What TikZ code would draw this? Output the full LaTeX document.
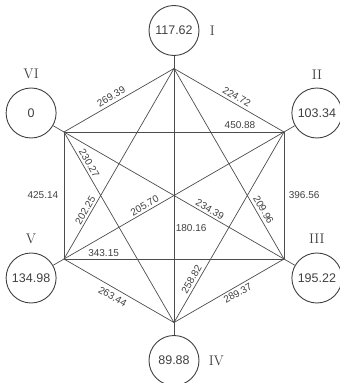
\documentclass[tikz,border=0pt]{standalone}
\usepackage{fontspec}
\setsansfont{Liberation Sans}
\usetikzlibrary{positioning}

\begin{document}
\begin{tikzpicture}[x=1pt, y=1pt, line width=0.7pt,
    station/.style={draw=black!75, circle, minimum size=50pt, inner sep=0pt, line width=0.9pt, text=black!75, font=\sffamily\fontsize{12.5}{14}\selectfont},
    roman/.style={inner sep=0pt, text=black!75, font=\fontsize{14}{16}\selectfont},
    dist/.style={inner sep=1.5pt, text=black!75, font=\sffamily\fontsize{10}{12}\selectfont},
    link/.style={draw=black!70}]
    \useasboundingbox (-174,-187.5) rectangle (166,195.5);

    % Corners of the hexagon
    \coordinate (vI) at (90:127);
    \coordinate (vII) at (30:127);
    \coordinate (vIII) at (-30:127);
    \coordinate (vIV) at (-90:127);
    \coordinate (vV) at (210:127);
    \coordinate (vVI) at (150:127);

    % Stations
    \node (cI) [station] at (90:165) {117.62};
    \node (cII) [station] at (30:165) {103.34};
    \node (cIII) [station] at (-30:165) {195.22};
    \node (cIV) [station] at (-90:165) {89.88};
    \node (cV) [station] at (210:165) {134.98};
    \node (cVI) [station] at (150:165) {0};

    \node (lI) [roman, right=10pt of cI] {I};
    \node (lII) [roman, above=8pt of cII] {II};
    \node (lIII) [roman, above=9pt of cIII] {III};
    \node (lIV) [roman, right=9pt of cIV] {IV};
    \node (lV) [roman, above=8pt of cV] {V};
    \node (lVI) [roman, above=8pt of cVI] {VI};

    \draw[link] (cI) -- (vI);
    \draw[link] (cII) -- (vII);
    \draw[link] (cIII) -- (vIII);
    \draw[link] (cIV) -- (vIV);
    \draw[link] (cV) -- (vV);
    \draw[link] (cVI) -- (vVI);

    % Outer edges
    \draw[link] (vVI) -- node[dist, sloped, above=1.5pt, pos=0.46] {269.39} (vI);
    \draw[link] (vI) -- node[dist, sloped, above=1.5pt, pos=0.54] {224.72} (vII);
    \draw[link] (vII) -- node[dist, right=3pt] {396.56} (vIII);
    \draw[link] (vIV) -- node[dist, sloped, below=1pt, pos=0.55] {289.37} (vIII);
    \draw[link] (vV) -- node[dist, sloped, below=3pt, pos=0.48] {263.44} (vIV);
    \draw[link] (vVI) -- node[dist, left=4pt] {425.14} (vV);

    % Diagonals
    \draw[link] (vVI) -- node[dist, above=2pt, pos=0.8] {450.88} (vII);
    \draw[link] (vV) -- node[dist, above=1pt, pos=0.18] {343.15} (vIII);
    \draw[link] (vVI) -- node[dist, sloped, above=1pt, pos=0.18] {230.27} (vIV);
    \draw[link] (vV) -- node[dist, sloped, above=0.5pt, pos=0.24] {202.25} (vI);
    \draw[link] (vV) -- node[dist, sloped, above=0.5pt, pos=0.38] {205.70} (vII);
    \draw[link] (vVI) -- node[dist, sloped, above=0.5pt, pos=0.65] {234.39} (vIII);
    \draw[link] (vI) -- node[dist, sloped, above=1.5pt, pos=0.76] {209.96} (vIII);
    \draw[link] (vIV) -- node[dist, sloped, above=1pt, pos=0.21] {258.82} (vII);
    \draw[link] (vI) -- node[dist, right, pos=0.63] {180.16} (vIV);
\end{tikzpicture}
\end{document}
